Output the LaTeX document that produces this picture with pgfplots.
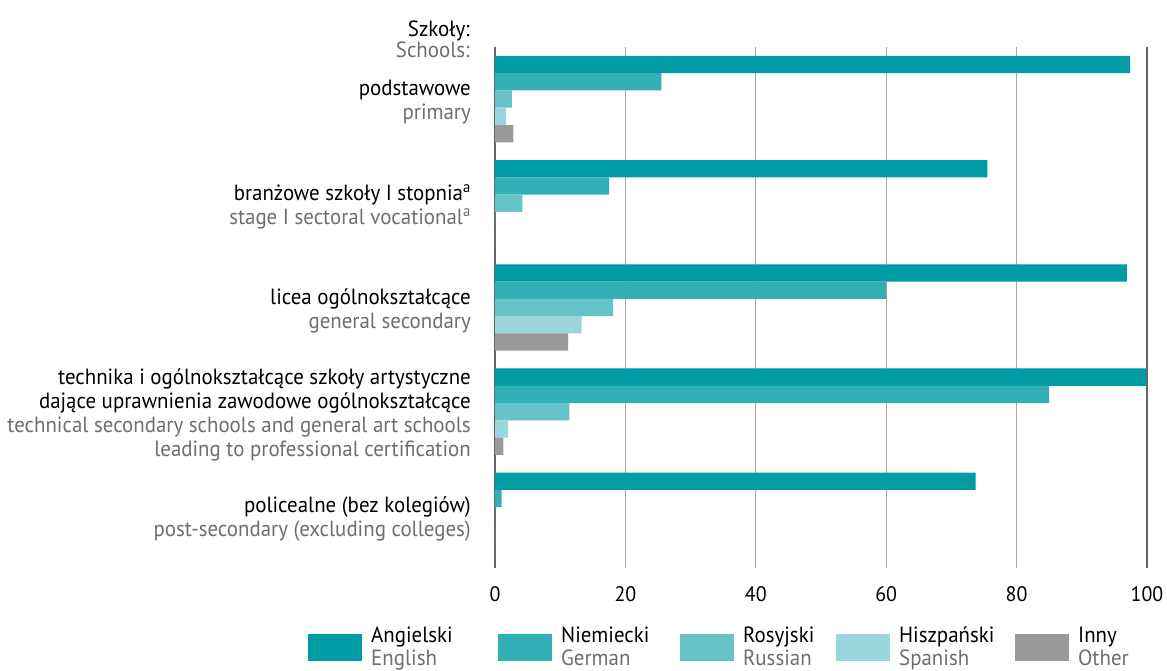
\documentclass[border=0pt]{standalone}
\usepackage{pgfplots}
\pgfplotsset{compat=1.18}
\usepackage{fontspec}
\setmainfont[FakeStretch=0.95]{PT Sans}
\definecolor{cEn}{HTML}{009BA5}
\definecolor{cDe}{HTML}{33AFB6}
\definecolor{cRu}{HTML}{66C3C8}
\definecolor{cEs}{HTML}{99D7DC}
\definecolor{cOt}{HTML}{999999}
\definecolor{txtgray}{HTML}{6D6E71}
\newcommand{\lab}[2]{\begin{tabular}{@{}r@{}}#1\\\textcolor{txtgray}{#2}\end{tabular}}
\newcommand{\leg}[3]{\makebox[#1pt][l]{\begin{tabular}{@{}l@{}}#2\\\textcolor{txtgray}{#3}\end{tabular}}}
\begin{document}
\fontsize{22}{24}\selectfont
\begin{tikzpicture}
\useasboundingbox (0,0) rectangle (1167pt,671pt);
\node[anchor=base east, inner sep=0pt] at (470pt,634pt) {Szkoły:};
\node[anchor=base east, inner sep=0pt] at (470pt,613pt) {\textcolor{txtgray}{Schools:}};
\begin{axis}[
  at={(495pt,103pt)}, anchor=south west,
  scale only axis, width=652pt, height=521pt,
  xmin=0, xmax=100, ymin=-0.5, ymax=4.5,
  xbar, bar width=0.166,
  axis line style={draw=none},
  major tick length=0pt,
  xtick={0,20,40,60,80,100},
  xmajorgrids,
  grid style={color=black!35, line width=1.3pt},
  extra x ticks={0,100}, extra x tick labels={},
  extra x tick style={grid style={color=black!60, line width=1.5pt}},
  /pgf/number format/assume math mode=true,
  xticklabel style={font=\fontsize{21}{24}\selectfont, yshift=-11pt},
  ytick={0,1,2,3,4},
  yticklabels={
    \lab{policealne (bez kolegiów)}{post-secondary (excluding colleges)},
    {\begin{tabular}{@{}r@{}}technika i ogólnokształcące szkoły artystyczne\\dające uprawnienia zawodowe ogólnokształcące\\\textcolor{txtgray}{technical secondary schools and general art schools}\\\textcolor{txtgray}{leading to professional certification}\end{tabular}},
    \lab{licea ogólnokształcące}{general secondary},
    \lab{branżowe szkoły I stopnia\textsuperscript{a}}{stage I sectoral vocational\textsuperscript{a}},
    \lab{podstawowe}{primary}},
  yticklabel style={font=\fontsize{22}{24}\selectfont, inner sep=0pt, xshift=-24pt, yshift=-4pt},
  legend columns=5,
  legend style={at={(-0.2868,-0.1115)}, anchor=north west, draw=none, inner sep=0pt,
    font=\fontsize{22}{23}\selectfont,
    /tikz/every odd column/.style={column sep=9pt},
    /tikz/every even column/.style={column sep=0pt},
    nodes={inner sep=0pt}},
  legend cell align=left,
]
\addplot[fill=cEn, draw=none, bar shift=0.332, legend image code/.code={\fill[cEn] (0pt,-19pt) rectangle (54pt,8pt);}]
  coordinates {(97.4,4) (75.5,3) (96.9,2) (99.9,1) (73.7,0)};
\addlegendentry{\leg{127}{Angielski}{English}}
\addplot[fill=cDe, draw=none, bar shift=0.166, legend image code/.code={\fill[cDe] (0pt,-19pt) rectangle (54pt,8pt);}]
  coordinates {(25.5,4) (17.5,3) (60.0,2) (85.0,1) (1.0,0)};
\addlegendentry{\leg{119}{Niemiecki}{German}}
\addplot[fill=cRu, draw=none, bar shift=0, legend image code/.code={\fill[cRu] (0pt,-19pt) rectangle (54pt,8pt);}]
  coordinates {(2.6,4) (4.2,3) (18.1,2) (11.4,1) (0,0)};
\addlegendentry{\leg{93}{Rosyjski}{Russian}}
\addplot[fill=cEs, draw=none, bar shift=-0.166, legend image code/.code={\fill[cEs] (0pt,-19pt) rectangle (54pt,8pt);}]
  coordinates {(1.7,4) (0,3) (13.3,2) (2.0,1) (0,0)};
\addlegendentry{\leg{116}{Hiszpański}{Spanish}}
\addplot[fill=cOt, draw=none, bar shift=-0.332, legend image code/.code={\fill[cOt] (0pt,-19pt) rectangle (54pt,8pt);}]
  coordinates {(2.8,4) (0,3) (11.2,2) (1.3,1) (0,0)};
\addlegendentry{\leg{60}{Inny}{Other}}
\end{axis}
\end{tikzpicture}
\end{document}
